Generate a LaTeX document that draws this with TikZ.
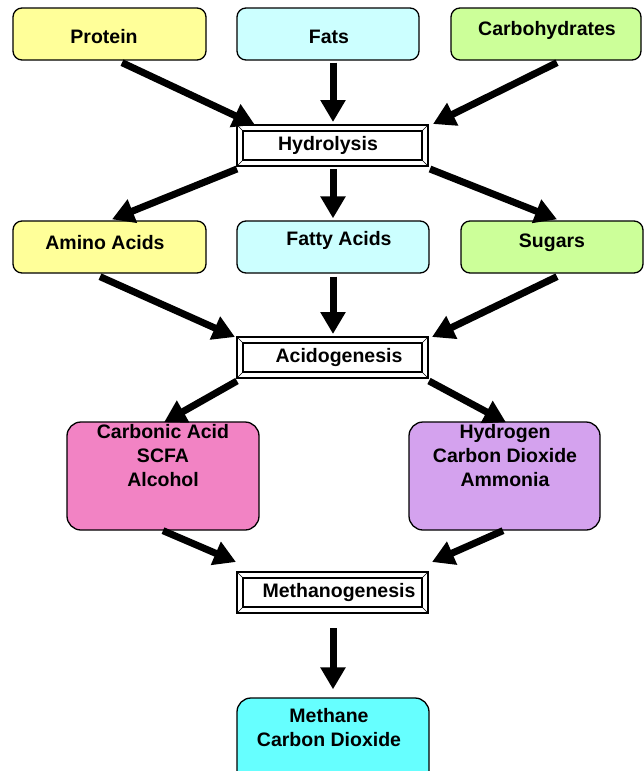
\documentclass[tikz,border=0pt]{standalone}
\usepackage{fontspec}
\setmainfont{Liberation Sans}
\usetikzlibrary{arrows.meta,calc}
\definecolor{cyel}{HTML}{FFFF99}
\definecolor{ccya}{HTML}{CCFFFF}
\definecolor{cgrn}{HTML}{CCFF99}
\definecolor{cpnk}{HTML}{F283C4}
\definecolor{cpur}{HTML}{D4A2EE}
\definecolor{caqu}{HTML}{66FFFF}
\begin{document}
\begin{tikzpicture}[x=1pt,y=-1pt,
  box/.style={draw, line width=1.3pt, rounded corners=9pt, inner sep=0pt},
  txt/.style={font=\fontsize{19.5}{24}\selectfont\bfseries, align=center, inner sep=0pt},
  proc/.style={draw, line width=2pt, inner sep=0pt, minimum width=191pt, minimum height=41pt,
    path picture={
      \coordinate (nw) at (path picture bounding box.north west);
      \coordinate (se) at (path picture bounding box.south east);
      \coordinate (ne) at (path picture bounding box.north east);
      \coordinate (sw) at (path picture bounding box.south west);
      \draw[line width=1.2pt] ([shift={(6pt,-6pt)}]nw) rectangle ([shift={(-6pt,6pt)}]se);
      \draw[line width=0.6pt] (nw) -- ([shift={(6pt,-6pt)}]nw)
        (ne) -- ([shift={(-6pt,-6pt)}]ne)
        (sw) -- ([shift={(6pt,6pt)}]sw)
        (se) -- ([shift={(-6pt,6pt)}]se);
    }},
  arr/.style={line width=7pt, -{Triangle[width=24pt,length=22pt]}}
]
\useasboundingbox (0,0) rectangle (644,771);
\clip (0,0) rectangle (644,771);

% top row
\node[box, fill=cyel, minimum width=193pt, minimum height=52pt] (protein) at (109.5,34) {};
\node[box, fill=ccya, minimum width=182pt, minimum height=52pt] (fats) at (328,34) {};
\node[box, fill=cgrn, minimum width=190pt, minimum height=52pt] (carbs) at (546,34) {};
\node[txt] (tprotein) at (104,37) {Protein};
\node[txt] (tfats) at (329,37) {Fats};
\node[txt] (tcarbs) at (547,30) {Carbohydrates};

% hydrolysis
\node[proc] (hyd) at (332.5,145.5) {};
\node[txt] (thyd) at (328,145) {Hydrolysis};

% second row
\node[box, fill=cyel, minimum width=193pt, minimum height=52pt] (amino) at (109.5,247) {};
\node[box, fill=ccya, minimum width=192pt, minimum height=52pt] (fatty) at (333,247) {};
\node[box, fill=cgrn, minimum width=182pt, minimum height=52pt] (sugars) at (552,247) {};
\node[txt] (tamino) at (105,243) {Amino Acids};
\node[txt] (tfatty) at (339,240) {Fatty Acids};
\node[txt] (tsugars) at (552,243) {Sugars};

% acidogenesis
\node[proc] (acido) at (332.5,357.5) {};
\node[txt] (tacido) at (339,357) {Acidogenesis};

% third row
\node[box, fill=cpnk, minimum width=192pt, minimum height=108pt, rounded corners=14pt] (carbacid) at (163,476) {};
\node[box, fill=cpur, minimum width=191pt, minimum height=108pt, rounded corners=14pt] (hydrogen) at (504.5,476) {};
\node[txt] (tcarbacid) at (163,456) {Carbonic Acid\\SCFA\\Alcohol};
\node[txt] (thydrogen) at (505,456) {Hydrogen\\Carbon Dioxide\\Ammonia};

% methanogenesis
\node[proc] (methano) at (332.5,592.5) {};
\node[txt] (tmethano) at (339,592) {Methanogenesis};

% final
\node[box, fill=caqu, minimum width=192pt, minimum height=92pt, rounded corners=14pt] (methane) at (333,744) {};
\node[txt] (tmethane) at (329,728) {Methane\\Carbon Dioxide};

% arrows
\draw[arr] ($(protein.south)+(12.5,2)$) -- ($(hyd.north west)+(19,1)$);
\draw[arr] ($(fats.south)+(5,2)$) -- ($(hyd.north)+(0.5,-2)$);
\draw[arr] ($(carbs.south)+(11,2)$) -- ($(hyd.north east)+(4,0)$);
\draw[arr] ($(hyd.south west)+(1,2)$) -- ($(amino.north)+(2.5,-1)$);
\draw[arr] ($(hyd.south)+(0.5,2)$) -- ($(fatty.north)+(0,-2)$);
\draw[arr] ($(hyd.south east)+(1,2)$) -- ($(sugars.north)+(5,-1)$);
\draw[arr] ($(amino.south)+(-9.5,3)$) -- ($(acido.north west)+(-1,1)$);
\draw[arr] ($(fatty.south)+(0,3)$) -- ($(acido.north)+(0.5,-2)$);
\draw[arr] ($(sugars.south)+(5,3)$) -- ($(acido.north east)+(3,1)$);
\draw[arr] ($(acido.south west)+(1,2)$) -- ($(carbacid.north)+(1,1)$);
\draw[arr] ($(acido.south east)+(0,2)$) -- ($(hydrogen.north)+(1.5,1)$);
\draw[arr] ($(carbacid.south)+(0,0)$) -- ($(methano.north west)+(0,-9)$);
\draw[arr] ($(hydrogen.south)+(-1.5,0)$) -- ($(methano.north east)+(3,-9)$);
\draw[arr] ($(methano.south)+(0.5,14)$) -- ($(methane.north)+(0,-8)$);
\end{tikzpicture}
\end{document}
